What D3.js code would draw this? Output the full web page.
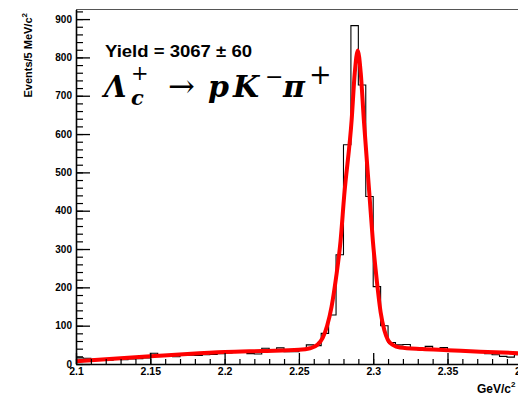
<!DOCTYPE html>
<html>
<head>
<meta charset="utf-8">
<script src="https://cdn.jsdelivr.net/npm/d3@7"></script>
<style>
  body { margin: 0; background: #fff; }
  svg { display: block; }
  .tick text { font-family: "Liberation Sans", Arial, sans-serif; font-weight: bold; fill: #000; }
</style>
</head>
<body>
<div id="chart"></div>
<script>
// histogram: 5 MeV bins from 2.100 to 2.400
const binStart = 2.1;
const binWidth = 0.005;
const counts = [
  16, 15, 12, 11, 10, 12, 11, 13, 14, 16,
  28, 20, 22, 19, 24, 23, 22, 24, 25, 27,
  29, 30, 32, 27, 26, 41, 33, 42, 32, 32,
  36, 50, 48, 80, 128, 285, 572, 883, 728, 437,
  202, 100, 56, 50, 51, 40, 37, 46, 38, 43,
  37, 34, 33, 31, 30, 27, 24, 20, 18, 24
];

// fit curve
const fitMass = [2.100, 2.125, 2.150, 2.175, 2.200, 2.225, 2.250, 2.2575, 2.2625, 2.266,
  2.269, 2.272, 2.275, 2.278, 2.2805, 2.2855, 2.2876, 2.2896, 2.2916, 2.2937,
  2.2975, 2.2998, 2.3025, 2.305, 2.3075, 2.310, 2.3135, 2.318, 2.333, 2.350, 2.372, 2.400];
const fitValue = [7, 14, 20, 26, 31, 34, 37, 41, 50, 68,
  100, 150, 225, 320, 440, 637, 760, 818, 760, 637,
  440, 320, 215, 135, 88, 62, 49, 43, 39, 36, 32, 28];

const xMajor = [2.1, 2.15, 2.2, 2.25, 2.3, 2.35, 2.4];
const xMajorLabels = ["2.1", "2.15", "2.2", "2.25", "2.3", "2.35", "2.4"];
const yMajor = [0, 100, 200, 300, 400, 500, 600, 700, 800, 900];

const W = 518, H = 394;

const svg = d3.select("#chart")
    .append("svg")
    .attr("width", W)
    .attr("height", H);

const x = d3.scaleLinear()
    .domain([2.1, 2.4])
    .range([76, 521.8]);

const y = d3.scaleLinear()
    .domain([0, 925])
    .range([364, 9.5]);

// top frame line
svg.append("line")
    .attr("x1", x(2.1)).attr("x2", x(2.4))
    .attr("y1", y(925)).attr("y2", y(925))
    .attr("stroke", "#555")
    .attr("stroke-width", 1);

// histogram outline
const histPts = counts.map((c, i) => [binStart + i * binWidth, c]);
histPts.push([binStart + counts.length * binWidth, counts[counts.length - 1]]);

const histLine = d3.line()
    .curve(d3.curveStepAfter)
    .x(d => x(d[0]))
    .y(d => y(d[1]));

svg.append("path")
    .datum(histPts)
    .attr("d", histLine)
    .attr("fill", "none")
    .attr("stroke", "#000")
    .attr("stroke-width", 1.1);

// fit
const fitLine = d3.line()
    .curve(d3.curveMonotoneX)
    .x((d, i) => x(fitMass[i]))
    .y(d => y(d));

svg.append("path")
    .datum(fitValue)
    .attr("d", fitLine)
    .attr("fill", "none")
    .attr("stroke", "#ff0000")
    .attr("stroke-width", 4)
    .attr("stroke-linejoin", "round");

// minor ticks
svg.append("g")
    .attr("transform", `translate(${x(2.1)},0)`)
    .call(d3.axisLeft(y)
        .tickValues(d3.range(0, 921, 20))
        .tickSize(-7)
        .tickFormat(""))
    .call(g => g.select(".domain").remove())
    .selectAll("line").attr("stroke-width", 1.2);

svg.append("g")
    .attr("transform", `translate(0,${y(0)})`)
    .call(d3.axisBottom(x)
        .tickValues(d3.range(0, 31).map(i => 2.1 + i * 0.01))
        .tickSize(-5)
        .tickFormat(""))
    .call(g => g.select(".domain").remove())
    .selectAll("line").attr("stroke-width", 1.2);

// major axes
const yAxis = svg.append("g")
    .attr("transform", `translate(${x(2.1)},0)`)
    .call(d3.axisLeft(y)
        .tickValues(yMajor)
        .tickSize(-14)
        .tickSizeOuter(0)
        .tickPadding(4));
yAxis.selectAll("text").attr("font-size", 10);
yAxis.selectAll("line").attr("stroke-width", 1.3);
yAxis.select(".domain").attr("stroke-width", 1.6);

const xAxis = svg.append("g")
    .attr("transform", `translate(0,${y(0)})`)
    .call(d3.axisBottom(x)
        .tickValues(xMajor)
        .tickFormat((d, i) => xMajorLabels[i])
        .tickSize(-11)
        .tickSizeOuter(0)
        .tickPadding(4));
xAxis.selectAll("text").attr("font-size", 10.5);
xAxis.selectAll("line").attr("stroke-width", 1.3);
xAxis.select(".domain").attr("stroke-width", 1.6);

// axis titles
const yTitle = svg.append("text")
    .attr("transform", "translate(32,13) rotate(-90)")
    .attr("text-anchor", "end")
    .attr("font-family", "Liberation Sans, Arial, sans-serif")
    .attr("font-weight", "bold")
    .attr("font-size", 11);
yTitle.append("tspan").text("Events/5 MeV/c");
yTitle.append("tspan").attr("dy", -5).attr("font-size", 8).text("2");

const xTitle = svg.append("text")
    .attr("x", 477)
    .attr("y", 393)
    .attr("font-family", "Liberation Sans, Arial, sans-serif")
    .attr("font-weight", "bold")
    .attr("font-size", 12);
xTitle.append("tspan").text("GeV/c");
xTitle.append("tspan").attr("dy", -6).attr("font-size", 8).text("2");

// yield label
svg.append("text")
    .attr("x", 105)
    .attr("y", 56.5)
    .attr("font-family", "Liberation Sans, Arial, sans-serif")
    .attr("font-weight", "bold")
    .attr("font-size", 16)
    .attr("textLength", 147)
    .attr("lengthAdjust", "spacingAndGlyphs")
    .text("Yield = 3067 \u00b1 60");

// decay formula
const f = svg.append("g")
    .attr("font-family", "DejaVu Serif, serif")
    .attr("font-weight", "bold")
    .attr("fill", "#000");

const parts = [
  { t: "\u039b", x: 104, y: 97, s: 29, i: true },
  { t: "+", x: 131, y: 80, s: 21, i: false, w: "normal" },
  { t: "c", x: 131, y: 105, s: 21, i: true },
  { t: "\u2192", x: 168, y: 97, s: 32, i: false, w: "normal" },
  { t: "p", x: 208, y: 97, s: 30, i: true },
  { t: "K", x: 233, y: 97, s: 30, i: true },
  { t: "\u2212", x: 265, y: 84, s: 22, i: false, w: "normal" },
  { t: "\u03c0", x: 283, y: 97, s: 30, i: true },
  { t: "+", x: 309, y: 84, s: 27, i: false, w: "normal" }
];
parts.forEach(p => {
  f.append("text")
      .attr("x", p.x)
      .attr("y", p.y)
      .attr("font-size", p.s)
      .attr("font-style", p.i ? "italic" : "normal")
      .attr("font-weight", p.w || "bold")
      .text(p.t);
});
</script>
</body>
</html>
